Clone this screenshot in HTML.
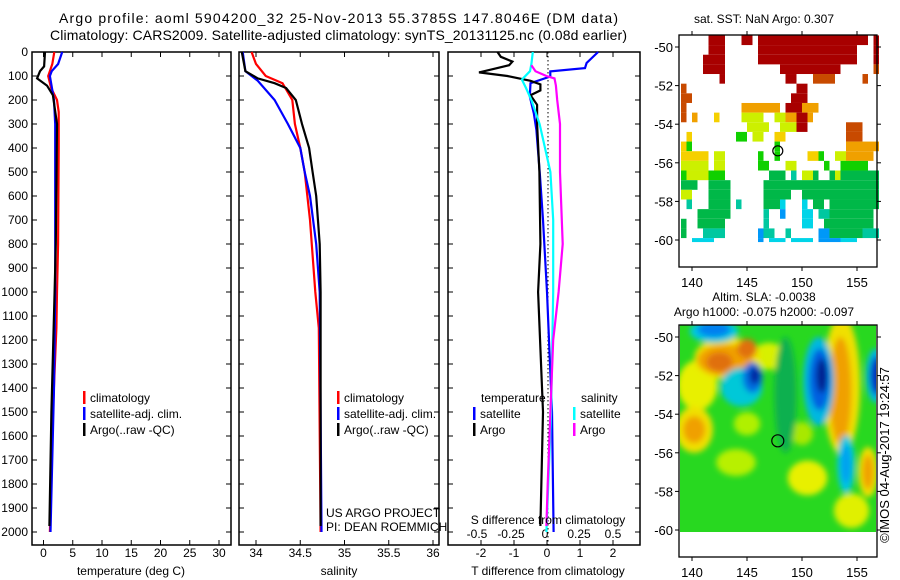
<!DOCTYPE html>
<html><head><meta charset="utf-8">
<style>
html,body{margin:0;padding:0;background:#fff;}
svg{display:block;font-family:"Liberation Sans",sans-serif;}
text{font-size:12px;fill:#000;}
</style></head>
<body>
<svg id="chart" width="900" height="580" viewBox="0 0 900 580" xmlns="http://www.w3.org/2000/svg">
<text x="59" y="23" textLength="559" lengthAdjust="spacing" style="font-size:14px">Argo profile: aoml 5904200_32 25-Nov-2013 55.3785S 147.8046E (DM data)</text>
<text x="50" y="40" textLength="577" lengthAdjust="spacing" style="font-size:14px">Climatology: CARS2009. Satellite-adjusted climatology: synTS_20131125.nc (0.08d earlier)</text>
<g id="g"></g>
</svg>
<script>
// ---- profile data ----
const tClimDepth=[0,50,100,150,200,250,400,800,1000,1150,1500,2000];
const tClimVal=[1.85,1.5,0.8,1.3,2.3,2.6,2.6,2.5,2.3,2.2,1.6,1.1];
const tSatDepth=[0,50,80,100,200,300,1000,1400,2000];
const tSatVal=[3.2,2.5,1.4,1.1,1.8,2.0,2.0,1.8,1.2];
const tArgoDepth=[0,60,80,110,140,180,300,800,1000,1500,1975];
const tArgoVal=[0.25,0.1,-0.6,-1.1,0.6,1.6,2.3,2.1,1.9,1.35,1.0];
const sClimDepth=[0,50,100,130,200,300,400,500,700,1000,1150,2000];
const sClimVal=[33.95,34.0,34.11,34.3,34.41,34.44,34.5,34.55,34.61,34.67,34.71,34.73];
const sSatDepth=[0,80,120,200,300,400,500,600,800,1000,2000];
const sSatVal=[33.85,33.88,34.02,34.21,34.36,34.5,34.55,34.61,34.68,34.72,34.74];
const sArgoDepth=[0,80,110,130,150,200,300,400,500,600,800,1000,1500,1975];
const sArgoVal=[33.84,33.88,34.02,34.21,34.34,34.45,34.52,34.6,34.64,34.68,34.72,34.73,34.73,34.73];
const dtSatDepth=[0,46,67,81,102,130,185,255,325,500,700,1000,1500,2000];
const dtSatVal=[1.55,1.2,1.15,0.1,0.1,-0.5,-0.52,-0.4,-0.32,-0.22,-0.12,0,0.15,0.2];
const dtArgoDepth=[0,20,40,55,70,85,100,120,135,160,180,220,300,500,800,1000,1500,1975];
const dtArgoVal=[-1.5,-1.4,-1.05,-1.15,-1.6,-2.06,-1.2,-0.5,-0.2,-0.2,-0.5,-0.3,-0.3,-0.23,-0.2,-0.27,-0.12,-0.2];
const dsSatDepth=[0,50,80,115,150,200,300,500,700,1000,1500,2000];
const dsSatVal=[-0.09,-0.1,-0.11,-0.17,-0.14,-0.1,-0.04,0.04,0.06,0.06,0.045,0.01];
const dsArgoDepth=[55,80,100,110,140,200,300,500,800,1000,1200,1500,1800,1975];
const dsArgoVal=[-0.1,-0.07,0.01,0.07,0.08,0.09,0.11,0.11,0.13,0.1,0.06,0.04,0.02,0.01];
const depthTicks=[0,100,200,300,400,500,600,700,800,900,1000,1100,1200,1300,1400,1500,1600,1700,1800,1900,2000];
const tempTicks=[0,5,10,15,20,25,30];
const salTicks=[34,34.5,35,35.5,36];
const dtTicks=[-2,-1,0,1,2];
const dsTicks=[-0.5,-0.25,0,0.25,0.5];
const lonTicks=[140,145,150,155];
const latTicks=[-50,-52,-54,-56,-58,-60];
// SST map cells: [row, col0, col1, colourCode]  (0.5 deg grid from 139E, -49.4)
const sstCells=[[0,5,7,'R'],[0,11,12,'R'],[0,14,31,'R'],[0,32,33,'R'],[0,35,35,'R'],
[1,5,7,'R'],[1,14,31,'R'],[1,35,35,'R'],[2,4,7,'R'],[2,14,31,'R'],[2,35,35,'R'],
[3,4,7,'R'],[3,18,28,'R'],[3,35,35,'r'],[4,7,7,'R'],[4,19,20,'R'],[4,24,27,'r'],[4,33,33,'r'],
[5,0,0,'r'],[5,21,22,'R'],[6,0,1,'r'],[6,20,22,'R'],[7,0,0,'r'],[7,11,17,'o'],[7,19,22,'R'],[7,22,24,'o'],
[8,0,0,'r'],[8,2,2,'o'],[8,6,6,'y'],[8,11,14,'l'],[8,17,18,'l'],[8,19,20,'o'],[8,21,22,'R'],[8,23,23,'o'],
[9,12,15,'l'],[9,18,20,'l'],[9,21,22,'R'],[9,30,32,'r'],[10,1,1,'y'],[10,10,11,'g'],[10,13,14,'l'],[10,17,18,'y'],[10,30,32,'r'],
[11,0,0,'y'],[11,1,1,'g'],[11,17,17,'g'],[11,30,35,'o'],[12,0,4,'y'],[12,6,7,'l'],[12,14,14,'g'],[12,17,17,'g'],[12,23,24,'y'],[12,25,25,'g'],[12,28,29,'l'],[12,30,34,'o'],
[13,0,4,'l'],[13,6,7,'l'],[13,14,15,'g'],[13,19,20,'l'],[13,26,26,'g'],[13,29,33,'g'],
[14,0,0,'g'],[14,1,4,'l'],[14,5,7,'g'],[14,16,18,'G'],[14,20,20,'t'],[14,22,23,'l'],[14,24,24,'G'],[14,27,27,'G'],[14,28,28,'l'],[14,29,35,'G'],
[15,0,2,'G'],[15,5,8,'G'],[15,15,22,'G'],[15,23,26,'G'],[15,27,35,'G'],
[16,0,1,'l'],[16,5,8,'G'],[16,15,19,'G'],[16,22,26,'G'],[16,27,35,'G'],
[17,1,1,'t'],[17,5,8,'G'],[17,10,10,'t'],[17,15,17,'G'],[17,18,18,'c'],[17,22,22,'c'],[17,24,25,'G'],[17,27,35,'G'],
[18,3,8,'G'],[18,15,15,'t'],[18,18,18,'b'],[18,22,23,'c'],[18,25,26,'t'],[18,27,34,'G'],
[19,0,0,'G'],[19,3,7,'G'],[19,15,15,'t'],[19,22,23,'c'],[19,26,34,'G'],
[20,0,0,'G'],[20,4,7,'t'],[20,14,14,'b'],[20,15,16,'t'],[20,19,19,'t'],[20,25,26,'b'],[20,27,32,'G'],[20,33,35,'t'],
[21,2,5,'c'],[21,14,14,'b'],[21,16,18,'c'],[21,20,23,'c'],[21,25,28,'b'],[21,29,31,'c']];
const palette={R:'#a80000',r:'#c84a00',o:'#f0a000',y:'#f5d000',l:'#ccf000',g:'#10d000',G:'#00b848',t:'#00c8a0',c:'#00d4e8',b:'#0098f8'};
// SLA map features: [lon, lat, rx(deg), ry(deg), colour]
const slaBlobs=[
[140.5,-52.5,1.8,1.3,'#e8f000'],[147,-51,1.6,0.7,'#d8f000'],[150.5,-57.3,1.8,0.9,'#e8f000'],[154.5,-59,1.6,0.9,'#e0f000'],[144,-56.5,1.8,0.7,'#b8f000'],[145,-54.5,1.2,0.6,'#b0f000'],[150,-55,1.0,0.6,'#a8e800'],
[153.6,-52.5,1.7,3.6,'#f0e000'],[153.5,-52.8,1.0,2.8,'#f0a000'],
[140.2,-54.8,1.7,1.2,'#f0e000'],[140.2,-54.8,1.0,0.7,'#f0a000'],[156,-57,0.9,1.3,'#f0e000'],[156,-57,0.5,0.9,'#f0a000'],
[143.2,-51.1,3.0,1.1,'#f0e000'],[143,-51.2,2.5,0.8,'#f0a000'],[142.5,-51.3,1.2,0.5,'#e07010'],[145,-50.6,0.9,0.5,'#e07010'],
[148.5,-53,1.0,3.0,'#10b050'],
[142,-49.7,2.2,0.6,'#00c8e0'],[142,-49.6,1.5,0.4,'#0080f0'],
[144.5,-52.6,1.9,1.0,'#00c8d8'],[145.5,-52.1,0.9,0.8,'#0070e0'],[145.7,-52,0.45,0.45,'#0020a0'],
[151.5,-52.3,1.4,2.3,'#00b8e0'],[151.6,-52.2,0.95,1.6,'#0060e0'],[151.8,-52,0.5,0.9,'#002090'],
[156.7,-52,0.9,1.4,'#00b8e0'],[156.8,-52,0.6,1.0,'#0030c0'],
[154,-56.6,0.8,1.5,'#00c8e0'],[154,-56.6,0.45,1.0,'#00a0f0']];

const NS='http://www.w3.org/2000/svg';
const G=document.getElementById('g');
function el(tag,attrs,parent){const e=document.createElementNS(NS,tag);for(const k in attrs)e.setAttribute(k,attrs[k]);(parent||G).appendChild(e);return e;}
function txt(x,y,s,anchor,parent,size){const t=el('text',{x:x,y:y,'text-anchor':anchor||'start'},parent);if(size)t.style.fontSize=size+'px';t.textContent=s;return t;}
const yD=d=>52+0.24*d;
const xT=v=>43.5+5.85*v;
const xS=v=>256+88.5*(v-34);
const xDT=v=>547+33*v;
const xDS=v=>545+136*v;
function frame(x0,x1,name){const r=el('rect',{x:x0,y:52,width:x1-x0,height:493,fill:'none',stroke:'#000','stroke-width':1.5});}
function line(ds,vs,fx,col,name){const p=ds.map((d,i)=>fx(vs[i]).toFixed(1)+','+yD(d).toFixed(1)).join(' ');const l=el('polyline',{points:p,fill:'none',stroke:col,'stroke-width':2.2});}
function xticks(ticks,fx,labels,ly){ticks.forEach(t=>{const x=fx(t);el('line',{x1:x,x2:x,y1:52,y2:57,stroke:'#000'});el('line',{x1:x,x2:x,y1:540,y2:545,stroke:'#000'});if(labels){const tt=txt(x,ly,String(t),'middle');}});}
function yticks(x0,x1,labels){depthTicks.forEach(d=>{const y=yD(d);el('line',{x1:x0,x2:x0+5,y1:y,y2:y,stroke:'#000'});el('line',{x1:x1-5,x2:x1,y1:y,y2:y,stroke:'#000'});if(labels){const t=txt(28,y+4,String(d),'end');}});}
// panel 1
frame(32,231,'temperature-panel');yticks(32,231,true);xticks(tempTicks,xT,true,557);
line(tClimDepth,tClimVal,xT,'#ff0000','temp-climatology-line');
line(tSatDepth,tSatVal,xT,'#0000ff','temp-satellite-line');
line(tArgoDepth,tArgoVal,xT,'#000000','temp-argo-line');
let a=txt(131,575,'temperature (deg C)','middle');
// panel 2
frame(239,439,'salinity-panel');yticks(239,439,false);xticks(salTicks,xS,true,557);
line(sClimDepth,sClimVal,xS,'#ff0000','sal-climatology-line');
line(sSatDepth,sSatVal,xS,'#0000ff','sal-satellite-line');
line(sArgoDepth,sArgoVal,xS,'#000000','sal-argo-line');
a=txt(339,575,'salinity','middle');
// panel 3
frame(448,640,'difference-panel');yticks(448,640,false);xticks(dtTicks,xDT,true,557);
dsTicks.forEach(t=>{const l=txt(xDS(t),538,String(t),'middle');});
for(let y=52;y<545;y+=4)el('line',{x1:548,x2:548,y1:y,y2:y+1.5,stroke:'#000','stroke-width':1});
line(dtSatDepth,dtSatVal,xDT,'#0000ff','tdiff-satellite-line');
line(dtArgoDepth,dtArgoVal,xDT,'#000000','tdiff-argo-line');
line(dsSatDepth,dsSatVal,xDS,'#00ffff','sdiff-satellite-line');
line(dsArgoDepth,dsArgoVal,xDS,'#ff00ff','sdiff-argo-line');
a=txt(548,575,'T difference from climatology','middle');
a=txt(548,524,'S difference from climatology','middle');
// legends
function leg(x,y,col,s,name){const g=el('g',{});el('rect',{x:x,y:y-11,width:2.5,height:13,fill:col},g);txt(x+7,y,s,'start',g);}
[['#ff0000','climatology'],['#0000ff','satellite-adj. clim.'],['#000000','Argo(..raw -QC)']].forEach((e,i)=>{leg(83,402+i*16,e[0],e[1],'temp-legend-entry');leg(337,402+i*16,e[0],e[1],'sal-legend-entry');});
a=txt(481,402,'temperature');
a=txt(581,402,'salinity');
leg(473,418,'#0000ff','satellite','legend-tdiff-satellite');leg(473,434,'#000000','Argo','legend-tdiff-argo');
leg(573,418,'#00ffff','satellite','legend-sdiff-satellite');leg(573,434,'#ff00ff','Argo','legend-sdiff-argo');
a=txt(326,517,'US ARGO PROJECT');
a=txt(326,531,'PI: DEAN ROEMMICH');
// maps
const lonX=l=>692+11*(l-140);
function mapAxes(top,bot,lat50,name){const yL=l=>lat50+19.3*(-50-l);
 const r=el('rect',{x:679,y:top,width:198,height:bot-top,fill:'none',stroke:'#000','stroke-width':1.3});
 lonTicks.forEach(l=>{const x=lonX(l);el('line',{x1:x,x2:x,y1:top-4,y2:top,stroke:'#000'});el('line',{x1:x,x2:x,y1:bot,y2:bot+4,stroke:'#000'});const t=txt(x,bot+20,String(l),'middle',null,13);});
 latTicks.forEach(l=>{const y=yL(l);el('line',{x1:675,x2:679,y1:y,y2:y,stroke:'#000'});el('line',{x1:877,x2:881,y1:y,y2:y,stroke:'#000'});const t=txt(673,y+5,String(l),'end',null,13);});
 return yL;}
// SST map
const sstG=el('g',{});
const cw=5.5,ch=9.65,sx0=lonX(139),sy0=47+19.3*-0.6;
sstCells.forEach(c=>{el('rect',{x:sx0+c[1]*cw,y:sy0+c[0]*ch,width:(c[2]-c[1]+1)*cw,height:c[0]===21?4:ch,fill:palette[c[3]]},sstG);});
const yL1=mapAxes(35,267,47,'sst-map-frame');
let c1=el('circle',{cx:lonX(147.8),cy:yL1(-55.38),r:5,fill:'none',stroke:'#000','stroke-width':1.2});
a=txt(764,23,'sat. SST: NaN Argo: 0.307','middle');
// SLA map
const defs=el('defs',{});
const cp=el('clipPath',{id:'slaclip'},defs);el('rect',{x:680,y:325,width:196,height:207},cp);
const f=el('filter',{id:'blur',x:'-50%',y:'-50%',width:'200%',height:'200%'},defs);el('feGaussianBlur',{stdDeviation:3},f);
const slaG=el('g',{'clip-path':'url(#slaclip)'});
el('rect',{x:680,y:325,width:196,height:207,fill:'#28d820'},slaG);
const yL2=l=>337+19.3*(-50-l);
const bg=el('g',{filter:'url(#blur)'},slaG);
slaBlobs.forEach(b=>{el('ellipse',{cx:lonX(b[0]),cy:yL2(b[1]),rx:b[2]*11,ry:b[3]*19.3,fill:b[4]},bg);});
mapAxes(325,557,337,'sla-map-frame');
c1=el('circle',{cx:lonX(147.8),cy:yL2(-55.38),r:6,fill:'none',stroke:'#000','stroke-width':1.2});
a=txt(764,301,'Altim. SLA: -0.0038','middle');
a=txt(764,316,'Argo h1000: -0.075 h2000: -0.097','middle');
a=txt(0,0,'©IMOS 04-Aug-2017 19:24:57','middle',null,13);a.setAttribute('transform','translate(889,455) rotate(-90)');
</script>
</body></html>
